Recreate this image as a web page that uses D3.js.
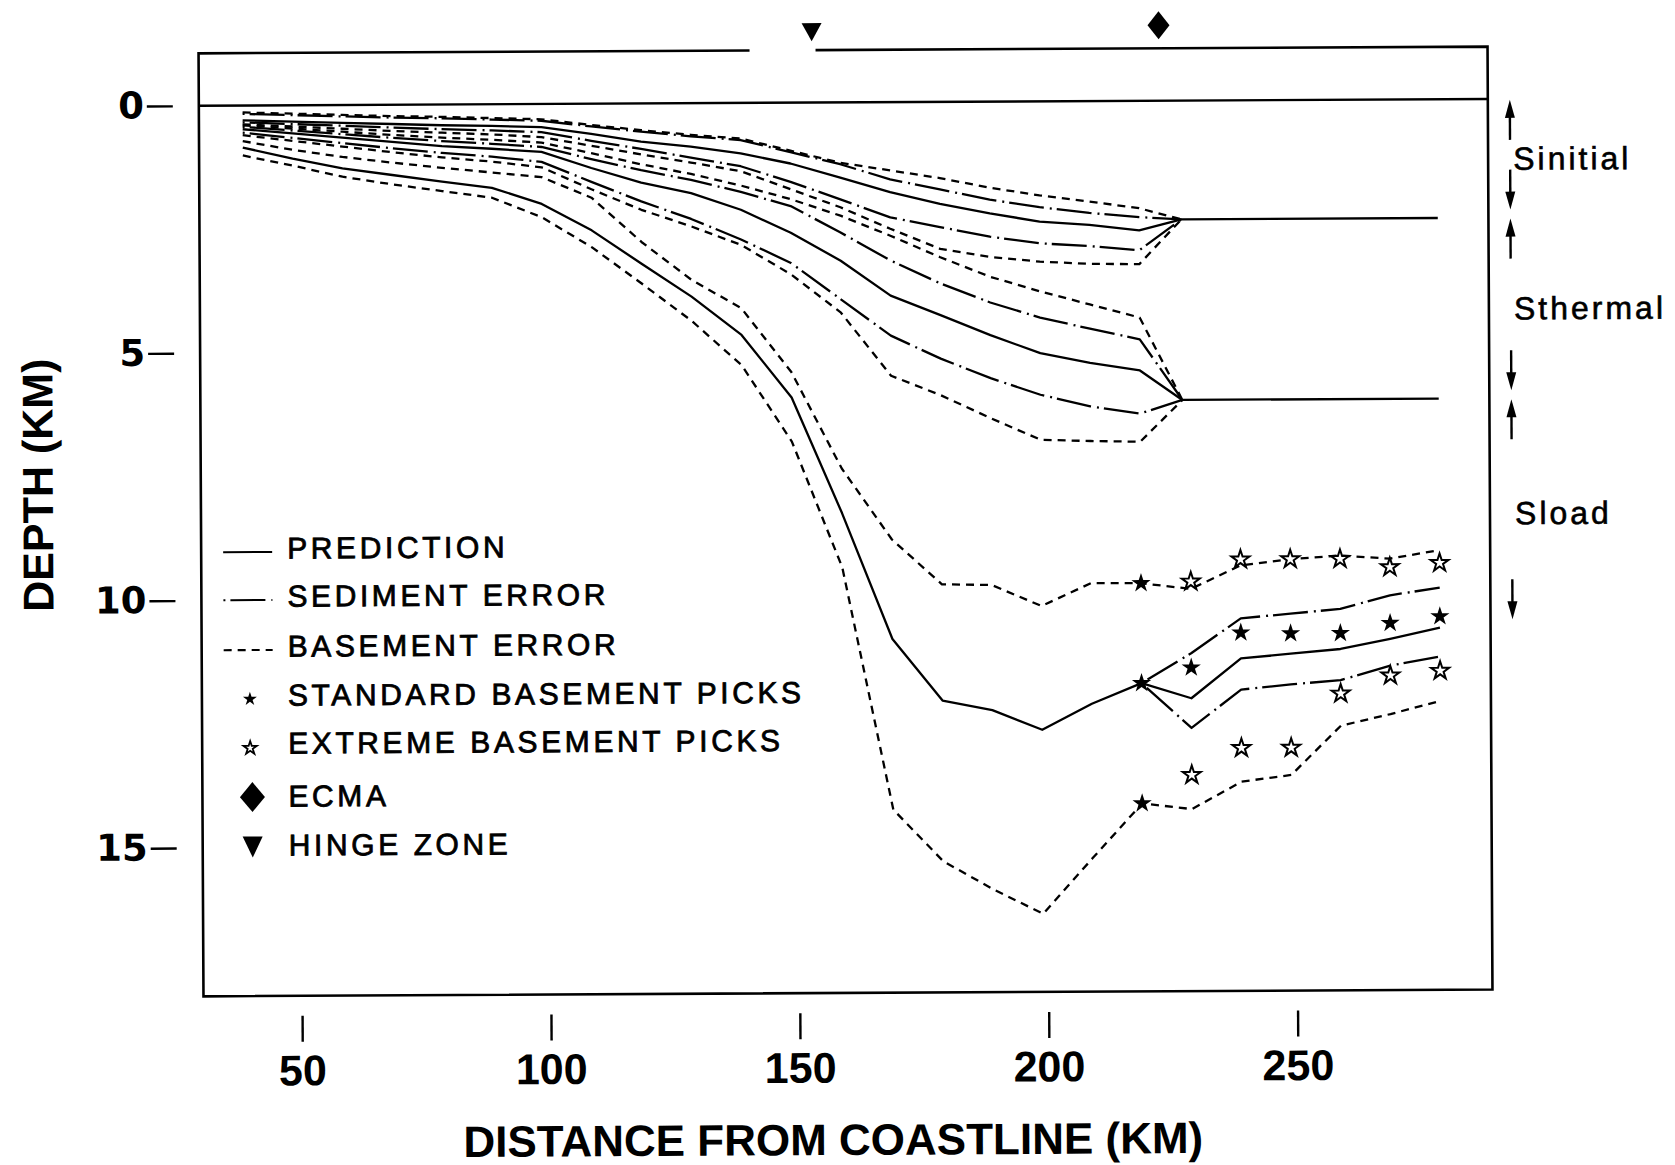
<!DOCTYPE html>
<html>
<head>
<meta charset="utf-8">
<script src="https://cdn.jsdelivr.net/npm/d3@7"></script>
<style>
  html, body { margin: 0; padding: 0; background: #fff; }
  svg { display: block; }
</style>
</head>
<body>
<svg id="chart" width="1675" height="1165"></svg>
<script>

// ---- data ----

// distances (km) of the digitised vertices
var distance = [39, 49, 59, 69, 79, 89, 99, 109, 119, 129, 139, 149, 159, 169, 179, 189, 199, 209, 219];
var distanceDeep = [39, 49, 59, 69, 79, 89, 99, 109, 119, 129, 139, 149, 159, 169, 179, 189, 199, 209, 219, 229, 239, 249, 259, 269, 279];
var distanceTail = [219, 229, 239, 249, 259, 269, 279];
var convergeKm = 227.5;
var endKm = 279;

// Sinitial surface (depth km)
var sinitialBase = 2.40;
var sinitialPred   = [0.30, 0.33, 0.36, 0.39, 0.42, 0.44, 0.47, 0.61, 0.77, 0.88, 1.02, 1.23, 1.52, 1.82, 2.06, 2.26, 2.43, 2.50, 2.62];
var sinitialSedUp  = [0.17, 0.20, 0.23, 0.26, 0.28, 0.31, 0.34, 0.46, 0.57, 0.67, 0.75, 1.00, 1.25, 1.56, 1.77, 1.98, 2.14, 2.26, 2.35];
var sinitialSedLow = [0.34, 0.38, 0.42, 0.46, 0.50, 0.53, 0.57, 0.75, 0.92, 1.10, 1.28, 1.60, 1.96, 2.33, 2.53, 2.73, 2.87, 2.93, 3.02];
var sinitialBasUp  = [0.14, 0.17, 0.20, 0.23, 0.25, 0.28, 0.31, 0.43, 0.54, 0.64, 0.72, 0.97, 1.22, 1.38, 1.54, 1.74, 1.90, 2.03, 2.17];
var sinitialBasLow = [0.38, 0.43, 0.48, 0.53, 0.57, 0.61, 0.67, 0.85, 1.03, 1.20, 1.38, 1.75, 2.12, 2.56, 2.97, 3.14, 3.24, 3.29, 3.30];

// Sthermal surface
var sthermalBase = 6.05;
var sthermalPred   = [0.48, 0.57, 0.66, 0.75, 0.84, 0.90, 0.97, 1.30, 1.60, 1.82, 2.16, 2.63, 3.20, 3.91, 4.31, 4.72, 5.09, 5.29, 5.45];
var sthermalSedUp  = [0.43, 0.51, 0.59, 0.67, 0.74, 0.80, 0.87, 1.12, 1.35, 1.55, 1.80, 2.09, 2.63, 3.20, 3.67, 4.06, 4.37, 4.60, 4.82];
var sthermalSedLow = [0.55, 0.66, 0.77, 0.88, 0.98, 1.06, 1.17, 1.58, 1.98, 2.34, 2.76, 3.24, 3.98, 4.72, 5.19, 5.59, 5.93, 6.17, 6.32];
var sthermalBasUp  = [0.40, 0.47, 0.54, 0.61, 0.67, 0.72, 0.78, 1.00, 1.23, 1.43, 1.67, 1.95, 2.29, 2.70, 3.14, 3.54, 3.84, 4.11, 4.38];
var sthermalBasLow = [0.60, 0.72, 0.84, 0.96, 1.07, 1.16, 1.28, 1.73, 2.15, 2.49, 2.87, 3.47, 4.25, 5.53, 5.93, 6.40, 6.84, 6.87, 6.89];

// Sload surface
var sloadPred   = [0.85, 1.08, 1.28, 1.42, 1.56, 1.69, 2.02, 2.56, 3.24, 3.91, 4.69, 5.96, 8.30, 10.85, 12.10, 12.30, 12.70, 12.18, 11.77, 12.08, 11.28, 11.19, 11.10, 10.90, 10.68];
var sloadBasUp  = [0.72, 0.90, 1.05, 1.17, 1.28, 1.38, 1.48, 1.90, 2.80, 3.57, 4.15, 5.45, 7.40, 8.84, 9.75, 9.77, 10.20, 9.74, 9.75, 9.87, 9.40, 9.28, 9.21, 9.28, 9.11];
var sloadBasLow = [1.01, 1.22, 1.45, 1.61, 1.75, 1.89, 2.29, 2.90, 3.64, 4.40, 5.30, 6.85, 9.40, 14.30, 15.35, 15.92, 16.42, 15.30, 14.20, 14.32, 13.77, 13.64, 12.65, 12.42, 12.16];
var sloadSedUp  = [11.77, 11.17, 10.47, 10.38, 10.29, 10.02, 9.87];
var sloadSedLow = [11.77, 12.68, 11.91, 11.81, 11.73, 11.44, 11.26];

// basement picks
var standardKm    = [219, 219, 219, 229, 239, 249, 259, 269, 279];
var standardDepth = [9.75, 11.77, 14.20, 11.46, 10.76, 10.78, 10.78, 10.58, 10.45];
var extremeKm     = [229, 239, 249, 259, 269, 279, 229, 239, 249, 259, 269, 279];
var extremeDepth  = [9.72, 9.28, 9.28, 9.28, 9.45, 9.37, 13.63, 13.09, 13.09, 12.00, 11.64, 11.55];

// markers above the frame
var hingeZoneKm = [153.4];
var ecmaKm = [223.1];

// axis ticks and labels
var xTicks = [50, 100, 150, 200, 250];
var yTicks = [0, 5, 10, 15];
var zoneNames = ['Sinitial', 'Sthermal', 'Sload'];
var legendLabels = ['PREDICTION', 'SEDIMENT ERROR', 'BASEMENT ERROR', 'STANDARD BASEMENT PICKS',
                    'EXTREME BASEMENT PICKS', 'ECMA', 'HINGE ZONE'];

// ---- drawing ----

var svg = d3.select('#chart');
svg.append('rect').attr('width', 1675).attr('height', 1165).attr('fill', '#fff');

// the scanned page is a touch skewed
var g = svg.append('g').attr('transform', 'rotate(-0.3, 837, 520)');

var xScale = d3.scaleLinear().domain([50, 250]).range([299.5, 1295]);
var yScale = d3.scaleLinear().domain([0, 15]).range([102.4, 844.6]);

var frame = {left: 201, right: 1490, top: 50, bottom: 993};

var SANS = '"Liberation Sans", Arial, Helvetica, sans-serif';
var WIDE = '"DejaVu Sans", Verdana, sans-serif';

var DASH_SED = '2,5,35,6';
var DASH_BAS = '8,6';

// frame, top edge broken around the hinge marker
var fp = d3.path();
fp.moveTo(752, frame.top);
fp.lineTo(frame.left, frame.top);
fp.lineTo(frame.left, frame.bottom);
fp.lineTo(frame.right, frame.bottom);
fp.lineTo(frame.right, frame.top);
fp.lineTo(818, frame.top);
g.append('path')
    .attr('d', fp.toString())
    .attr('fill', 'none')
    .attr('stroke', '#000')
    .attr('stroke-width', 2.6);

// sea level line
g.append('line')
    .attr('x1', frame.left).attr('x2', frame.right)
    .attr('y1', yScale(0)).attr('y2', yScale(0))
    .attr('stroke', '#000')
    .attr('stroke-width', 2.4);

var line = d3.line()
    .x(function(d) { return xScale(d[0]); })
    .y(function(d) { return yScale(d[1]); });

function addLine(xs, ys, dash) {
    var pts = xs.map(function(x, i) { return [x, ys[i]]; });
    g.append('path')
        .datum(pts)
        .attr('d', line)
        .attr('fill', 'none')
        .attr('stroke', '#000')
        .attr('stroke-width', 2.3)
        .attr('stroke-linejoin', 'round')
        .attr('stroke-dasharray', dash);
}

// Sinitial and Sthermal: five curves meeting at the ECMA, then flat
var shallowX = distance.concat([convergeKm]);
addLine(shallowX, sinitialBasUp.concat([sinitialBase]), DASH_BAS);
addLine(shallowX, sinitialSedUp.concat([sinitialBase]), DASH_SED);
addLine(shallowX, sinitialSedLow.concat([sinitialBase]), DASH_SED);
addLine(shallowX, sinitialBasLow.concat([sinitialBase]), DASH_BAS);
addLine(distance.concat([convergeKm, endKm]), sinitialPred.concat([sinitialBase, sinitialBase]), null);

addLine(shallowX, sthermalBasUp.concat([sthermalBase]), DASH_BAS);
addLine(shallowX, sthermalSedUp.concat([sthermalBase]), DASH_SED);
addLine(shallowX, sthermalSedLow.concat([sthermalBase]), DASH_SED);
addLine(shallowX, sthermalBasLow.concat([sthermalBase]), DASH_BAS);
addLine(distance.concat([convergeKm, endKm]), sthermalPred.concat([sthermalBase, sthermalBase]), null);

// Sload
addLine(distanceDeep, sloadBasUp, DASH_BAS);
addLine(distanceDeep, sloadBasLow, DASH_BAS);
addLine(distanceTail, sloadSedUp, DASH_SED);
addLine(distanceTail, sloadSedLow, DASH_SED);
addLine(distanceDeep, sloadPred, null);

// basement picks
var starBig = d3.symbol().type(d3.symbolStar).size(115);
var starOpen = d3.symbol().type(d3.symbolStar).size(100);

g.selectAll('.pick-std')
    .data(standardKm)
    .enter()
    .append('path')
    .attr('class', 'pick-std')
    .attr('d', starBig)
    .attr('transform', function(d, i) {
        return 'translate(' + xScale(d) + ',' + yScale(standardDepth[i]) + ')';
    })
    .attr('fill', '#000');

g.selectAll('.pick-ext')
    .data(extremeKm)
    .enter()
    .append('path')
    .attr('class', 'pick-ext')
    .attr('d', starOpen)
    .attr('transform', function(d, i) {
        return 'translate(' + xScale(d) + ',' + yScale(extremeDepth[i]) + ')';
    })
    .attr('fill', '#fff')
    .attr('stroke', '#000')
    .attr('stroke-width', 2);

// markers
function trianglePath(cx, cy, w, h) {
    return 'M' + (cx - w / 2) + ',' + (cy - h / 2) + 'L' + (cx + w / 2) + ',' + (cy - h / 2) +
           'L' + cx + ',' + (cy + h / 2) + 'Z';
}
function diamondPath(cx, cy, w, h) {
    return 'M' + cx + ',' + (cy - h / 2) + 'L' + (cx + w / 2) + ',' + cy +
           'L' + cx + ',' + (cy + h / 2) + 'L' + (cx - w / 2) + ',' + cy + 'Z';
}

g.selectAll('.hinge')
    .data(hingeZoneKm)
    .enter()
    .append('path')
    .attr('d', function(d) { return trianglePath(xScale(d), 32, 20, 18); })
    .attr('fill', '#000');

g.selectAll('.ecma')
    .data(ecmaKm)
    .enter()
    .append('path')
    .attr('d', function(d) { return diamondPath(xScale(d), 27, 22, 28); })
    .attr('fill', '#000');

// x axis (detached below the frame)
var xAxis = d3.axisBottom(xScale)
    .tickValues(xTicks)
    .tickSize(26)
    .tickPadding(13)
    .tickSizeOuter(0);

var xAxisG = g.append('g')
    .attr('transform', 'translate(0,1013)')
    .call(xAxis);
xAxisG.select('.domain').remove();
xAxisG.selectAll('line').attr('stroke', '#000').attr('stroke-width', 2.4);
xAxisG.selectAll('text')
    .attr('fill', '#000')
    .attr('font-family', SANS)
    .attr('font-weight', 'bold')
    .attr('font-size', 43);

g.append('text')
    .text('DISTANCE FROM COASTLINE (KM)')
    .attr('x', 830)
    .attr('y', 1155)
    .attr('text-anchor', 'middle')
    .attr('font-family', SANS)
    .attr('font-weight', 'bold')
    .attr('font-size', 44);

// y axis
var yAxis = d3.axisLeft(yScale)
    .tickValues(yTicks)
    .tickSize(26)
    .tickPadding(3)
    .tickSizeOuter(0);

var yAxisG = g.append('g')
    .attr('transform', 'translate(175,0)')
    .call(yAxis);
yAxisG.select('.domain').remove();
yAxisG.selectAll('line').attr('stroke', '#000').attr('stroke-width', 2.4);
yAxisG.selectAll('text')
    .attr('fill', '#000')
    .attr('font-family', WIDE)
    .attr('font-weight', 'bold')
    .attr('font-size', 37);

g.append('text')
    .text('DEPTH (KM)')
    .attr('transform', 'translate(38,481) rotate(-90)')
    .attr('text-anchor', 'middle')
    .attr('dominant-baseline', 'central')
    .attr('font-family', SANS)
    .attr('font-weight', 'bold')
    .attr('font-size', 43);

// zone brackets on the right
var zoneTop = [0, sinitialBase, sthermalBase];
var zoneBottom = [sinitialBase, sthermalBase, sloadPred[sloadPred.length - 1]];
var arrowX = 1512;

function arrow(tipY, dir) {
    // dir -1: pointing up, +1: pointing down
    var len = 40, head = 18, hw = 5;
    g.append('line')
        .attr('x1', arrowX).attr('x2', arrowX)
        .attr('y1', tipY - dir * len).attr('y2', tipY - dir * head * 0.6)
        .attr('stroke', '#000').attr('stroke-width', 2.4);
    g.append('path')
        .attr('d', 'M' + arrowX + ',' + tipY + 'L' + (arrowX - hw) + ',' + (tipY - dir * head) +
                   'L' + (arrowX + hw) + ',' + (tipY - dir * head) + 'Z')
        .attr('fill', '#000');
}

zoneNames.forEach(function(name, i) {
    var top = yScale(zoneTop[i]);
    var bottom = yScale(zoneBottom[i]);
    arrow(top + 1, -1);
    arrow(bottom - 8, 1);
    g.append('text')
        .text(name)
        .attr('x', 1515)
        .attr('y', (top + bottom) / 2 + 11.5)
        .attr('font-family', SANS)
        .attr('font-size', 32)
        .attr('letter-spacing', 3)
        .attr('stroke', '#000')
        .attr('stroke-width', 0.6);
});

// legend
var legendY = [545, 593, 643, 692, 740, 793, 842];
var legendTextX = 287;

legendLabels.forEach(function(label, i) {
    g.append('text')
        .text(label)
        .attr('x', legendTextX)
        .attr('y', legendY[i] + 10.7)
        .attr('font-family', SANS)
        .attr('font-size', 30)
        .attr('letter-spacing', 3.6)
        .attr('stroke', '#000')
        .attr('stroke-width', 0.8);
});

var sampleDash = [null, DASH_SED, DASH_BAS];
sampleDash.forEach(function(dash, i) {
    g.append('line')
        .attr('x1', 223).attr('x2', 272)
        .attr('y1', legendY[i] + 4).attr('y2', legendY[i] + 4)
        .attr('stroke', '#000')
        .attr('stroke-width', 2.1)
        .attr('stroke-dasharray', dash);
});

g.append('path')
    .attr('d', d3.symbol().type(d3.symbolStar).size(60)())
    .attr('transform', 'translate(249,' + (legendY[3] + 4) + ')')
    .attr('fill', '#000');
g.append('path')
    .attr('d', d3.symbol().type(d3.symbolStar).size(55)())
    .attr('transform', 'translate(249,' + (legendY[4] + 5) + ')')
    .attr('fill', '#fff')
    .attr('stroke', '#000')
    .attr('stroke-width', 1.8);
g.append('path')
    .attr('d', diamondPath(251, legendY[5] + 1, 25, 30))
    .attr('fill', '#000');
g.append('path')
    .attr('d', trianglePath(251, legendY[6] + 2, 20, 21))
    .attr('fill', '#000');

</script>
</body>
</html>
